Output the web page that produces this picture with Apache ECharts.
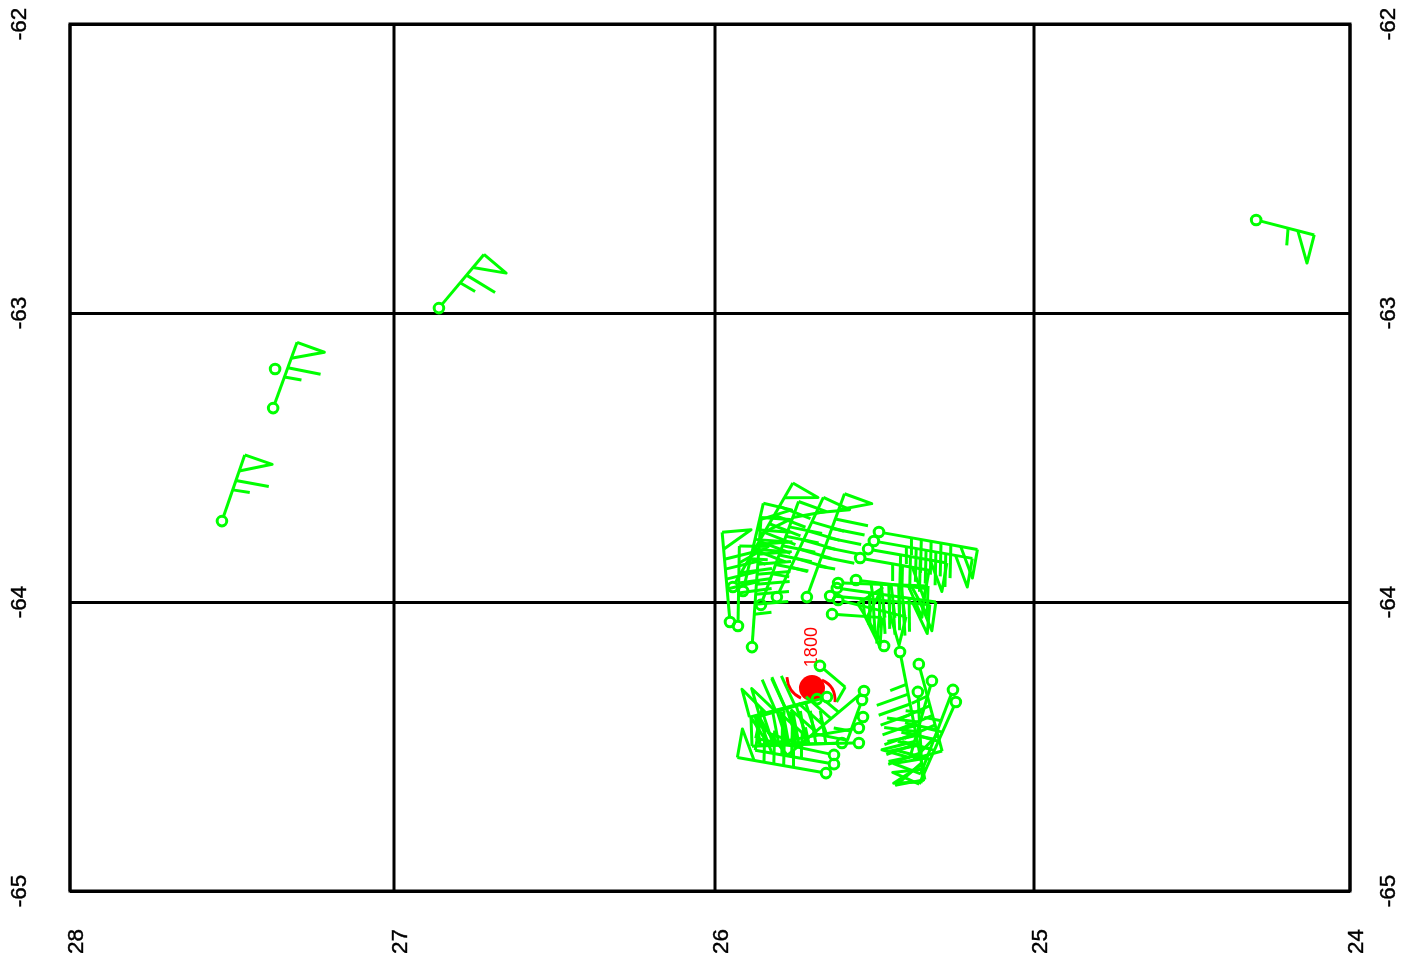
<!DOCTYPE html>
<html><head><meta charset="utf-8">
<style>html,body{margin:0;padding:0;background:#fff}#c{width:1405px;height:973px}</style>
<script src="https://cdn.jsdelivr.net/npm/echarts@6/dist/echarts.min.js"></script>
</head><body><div id="c"></div>
<script>
const lonTicks = [28, 27, 26, 25, 24];
const latTicks = [-65, -64, -63, -62];
const lons = [24.297,26.860,27.373,27.367,27.531,
  25.953,25.928,25.884,25.856,25.806,25.712,25.944,25.912,
  25.486,25.502,25.520,25.545,
  25.614,25.618,25.558,25.639,25.614,25.633,25.470,
  25.420,25.361,25.320,25.364,25.254,25.245,
  25.671,25.680,25.649,25.533,25.539,25.536,25.549,25.602,25.549,25.627,25.627,25.652];
const lats = [-62.678,-62.983,-63.329,-63.194,-63.720,
  -64.069,-64.083,-64.156,-64.010,-63.983,-63.983,-63.948,-63.962,
  -63.758,-63.789,-63.817,-63.848,
  -63.934,-63.952,-63.924,-63.979,-63.993,-64.042,-64.152,
  -64.173,-64.215,-64.273,-64.311,-64.304,-64.346,
  -64.221,-64.336,-64.329,-64.308,-64.339,-64.398,-64.436,-64.488,-64.488,-64.529,-64.561,-64.592];
const speeds = [55,65,65,0,65,
  90,80,125,105,105,105,115,85,
  95,95,80,65,
  85,100,70,95,65,50,50,
  125,85,75,85,85,85,
  5,70,70,95,15,0,95,85,100,75,75,85];
const bearings = [104.5,40,20,0,19,
  355,1,4,20,25,20,30,13,
  100,100,100,100,
  92,98,97,95,104,94,328,
  169,165,196,177,201,204,
  130,255,254,230,200,0,260,268,269,282,280,280];
const centerLon = [25.696], centerLat = [-64.298], centerLabel = ['1800'];

// the x scale of the map projection is slightly uneven: piecewise-linear axis units
const xUnits = [0, 324, 645, 964, 1280];
function warp(lon) {
  for (let i = 0; i < lonTicks.length - 1; i++) {
    if (lon <= lonTicks[i] && lon >= lonTicks[i + 1]) {
      return xUnits[i] + (lonTicks[i] - lon) / (lonTicks[i] - lonTicks[i + 1]) * (xUnits[i + 1] - xUnits[i]);
    }
  }
  return 0;
}
const GREEN = '#00ff00', RED = '#ff0000', LW = 3;
const R = 4.8, BASE = 33, FLAGLEN = 17, STEP = 10, LONG = 33, SHORT = 17, FLAGH = 29, SLANT = 5;

function barb(params, api) {
  const p = api.coord([api.value(0), api.value(1)]);
  const spd = api.value(2), brg = api.value(3) * Math.PI / 180;
  const children = [];
  const ls = { stroke: GREEN, fill: null, lineWidth: LW, lineJoin: 'round', lineCap: 'butt' };
  children.push({ type: 'circle', shape: { cx: p[0], cy: p[1], r: R }, style: { stroke: GREEN, fill: null, lineWidth: LW } });
  if (spd <= 0) return { type: 'group', children };
  const dx = Math.sin(brg), dy = -Math.cos(brg);
  const nx = -dy, ny = dx;
  const flag = spd >= 50 ? 1 : 0;
  const rest = spd - flag * 50;
  const longs = Math.floor(rest / 10);
  const short = rest - longs * 10 >= 5 ? 1 : 0;
  const lastPos = flag ? FLAGLEN + (longs + short) * STEP : (longs + short - 1) * STEP;
  const L = BASE + lastPos;
  const tip = [p[0] + dx * L, p[1] + dy * L];
  const at = (s, h) => [tip[0] - dx * s + nx * h, tip[1] - dy * s + ny * h];
  children.push({ type: 'polyline', shape: { points: [[p[0] + dx * R, p[1] + dy * R], tip] }, style: ls });
  let pos = 0;
  if (flag) {
    children.push({ type: 'polyline', shape: { points: [tip, at(0, FLAGH), at(FLAGLEN, 0)] }, style: ls });
    pos = FLAGLEN + STEP;
  }
  for (let i = 0; i < longs; i++) {
    children.push({ type: 'polyline', shape: { points: [at(pos, 0), at(pos - SLANT, LONG)] }, style: ls });
    pos += STEP;
  }
  if (short) {
    children.push({ type: 'polyline', shape: { points: [at(pos, 0), at(pos - SLANT * 0.6, SHORT)] }, style: ls });
  }
  return { type: 'group', children };
}
function storm(params, api) {
  const p = api.coord([api.value(0), api.value(1)]);
  const ls = { stroke: RED, fill: null, lineWidth: 2.8 };
  return { type: 'group', children: [
    { type: 'circle', shape: { cx: p[0], cy: p[1], r: 13 }, style: { fill: RED } },
    { type: 'bezierCurve', shape: { x1: p[0] - 25, y1: p[1] - 11, cpx1: p[0] - 24, cpy1: p[1] + 4, x2: p[0] - 11, y2: p[1] + 10 }, style: ls },
    { type: 'bezierCurve', shape: { x1: p[0] + 10, y1: p[1] - 8, cpx1: p[0] + 24, cpy1: p[1] - 2, x2: p[0] + 23, y2: p[1] + 14 }, style: ls },
    { type: 'text', rotation: Math.PI / 2, x: p[0], y: p[1] - 41, style: { text: api.value(2) + '', fill: RED, font: '18px "Liberation Sans"', align: 'center', verticalAlign: 'middle' } }
  ] };
}
function vline(params, api) {
  const a = api.coord([api.value(0), latTicks[0]]), b = api.coord([api.value(0), latTicks[latTicks.length - 1]]);
  return { type: 'line', shape: { x1: a[0], y1: a[1], x2: b[0], y2: b[1] }, style: { stroke: '#000', lineWidth: 3 } };
}
const labelFont = { color: '#000', fontFamily: 'Liberation Sans', fontSize: 22.5, textBorderColor: '#000', textBorderWidth: 0.4 };
const yCommon = { type: 'value', min: -65, max: -62, interval: 1, axisTick: { show: false }, axisLine: { show: false } };
const chart = echarts.init(document.getElementById('c'), null, { renderer: 'canvas' });
chart.setOption({
  animation: false, backgroundColor: '#fff',
  grid: { left: 70, top: 24, width: 1280, height: 867, show: true, borderColor: '#000', borderWidth: 3, backgroundColor: '#fff' },
  xAxis: { type: 'value', min: 0, max: 1280, splitLine: { show: false }, axisLine: { show: false }, axisTick: { show: false },
    axisLabel: Object.assign({ customValues: xUnits, rotate: 90, margin: 38, verticalAlign: 'top', lineHeight: 13, showMinLabel: true, showMaxLabel: true,
      formatter: v => String(lonTicks[xUnits.indexOf(v)]) }, labelFont) },
  yAxis: [
    Object.assign({}, yCommon, { position: 'left', splitLine: { show: true, lineStyle: { color: '#000', width: 3 } }, axisLabel: Object.assign({ rotate: 90, margin: 39 }, labelFont) }),
    Object.assign({}, yCommon, { position: 'right', splitLine: { show: false }, axisLabel: Object.assign({ rotate: 90, margin: 27 }, labelFont) })
  ],
  series: [
    { type: 'custom', coordinateSystem: 'cartesian2d', renderItem: vline, data: xUnits.map(u => [u]), silent: true, z: 2, clip: false },
    { type: 'custom', coordinateSystem: 'cartesian2d', renderItem: storm, data: centerLon.map((v, i) => [warp(v), centerLat[i], centerLabel[i]]), encode: { x: 0, y: 1 }, z: 3, silent: true },
    { type: 'custom', coordinateSystem: 'cartesian2d', renderItem: barb, data: lons.map((v, i) => [warp(v), lats[i], speeds[i], bearings[i]]), encode: { x: 0, y: 1 }, z: 4, silent: true }
  ]
});
</script></body></html>
